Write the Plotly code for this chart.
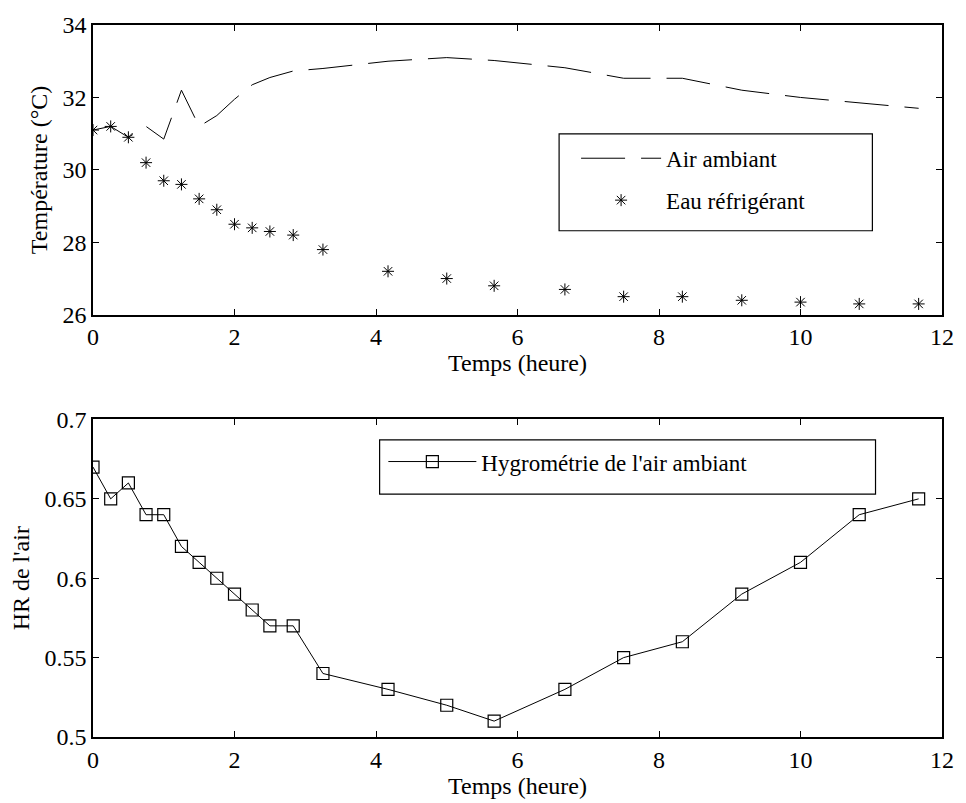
import plotly.graph_objects as go

temps = [0, 0.25, 0.5, 0.75, 1, 1.25, 1.5, 1.75, 2, 2.25, 2.5, 2.83, 3.25,
         4.17, 5, 5.67, 6.67, 7.5, 8.33, 9.17, 10, 10.83, 11.67]
air_ambiant = [31.1, 31.2, 30.9, 31.2, 30.85, 32.2, 31.2, 31.5, 31.95, 32.35, 32.55, 32.73, 32.8,
               33.0, 33.1, 33.02, 32.82, 32.53, 32.53, 32.2, 32.0, 31.85, 31.7]
eau_refrigerant = [31.1, 31.2, 30.9, 30.2, 29.7, 29.6, 29.2, 28.9, 28.5, 28.4, 28.3, 28.2, 27.8,
                   27.2, 27.0, 26.8, 26.7, 26.5, 26.5, 26.4, 26.35, 26.3, 26.3]
hr_air = [0.67, 0.65, 0.66, 0.64, 0.64, 0.62, 0.61, 0.60, 0.59, 0.58, 0.57, 0.57, 0.54,
          0.53, 0.52, 0.51, 0.53, 0.55, 0.56, 0.59, 0.61, 0.64, 0.65]

x_ticks = [0, 2, 4, 6, 8, 10, 12]
t_ticks = [26, 28, 30, 32, 34]
hr_ticks = [0.5, 0.55, 0.6, 0.65, 0.7]
hr_ticklabels = ["0.5", "0.55", "0.6", "0.65", "0.7"]

FONT = "Liberation Serif"
fig = go.Figure()

fig.add_trace(go.Scatter(x=temps, y=air_ambiant, mode="lines", name="Air ambiant",
                         line=dict(color="black", width=1, dash="44px,16px"),
                         xaxis="x", yaxis="y", legend="legend", legendgroup="a"))
fig.add_trace(go.Scatter(x=temps, y=eau_refrigerant, mode="markers", name="Eau réfrigérant",
                         marker=dict(symbol="asterisk-open", size=10, color="black",
                                     line=dict(color="black", width=1)),
                         xaxis="x", yaxis="y", legend="legend", legendgroup="b"))
fig.add_trace(go.Scatter(x=temps, y=hr_air, mode="lines+markers", name="Hygrométrie de l'air ambiant",
                         line=dict(color="black", width=1),
                         marker=dict(symbol="square-open", size=12, color="black",
                                     line=dict(color="black", width=1.2)),
                         xaxis="x2", yaxis="y2", legend="legend2"))

axis_common = dict(showline=True, linecolor="black", linewidth=1.5, mirror="ticks",
                   ticks="inside", ticklen=6, tickcolor="black", tickwidth=1,
                   showgrid=False, zeroline=False,
                   tickfont=dict(family=FONT, size=24, color="black"))

# legend frames (paper coordinates)
legend_frames = [
    dict(x0=0.549, x1=0.918, y0=0.711, y1=0.847),
    dict(x0=0.3376, x1=0.9217, y0=0.341, y1=0.4172),
]
shapes = [dict(type="rect", xref="paper", yref="paper", layer="above",
               fillcolor="white", line=dict(color="black", width=1.2), **f)
          for f in legend_frames]

fig.update_layout(
    width=966, height=803,
    margin=dict(l=93, r=17, t=21, b=61),
    paper_bgcolor="white", plot_bgcolor="white",
    font=dict(family=FONT, size=24, color="black"),
    shapes=shapes,
    xaxis=dict(domain=[0, 1], range=[0, 12], tickvals=x_ticks, anchor="y",
               title=dict(text="Temps (heure)", font=dict(family=FONT, size=24), standoff=2),
               **axis_common),
    yaxis=dict(domain=[0.593, 1], range=[26, 34], tickvals=t_ticks, anchor="x",
               title=dict(text="Température (°C)", font=dict(family=FONT, size=24), standoff=8),
               **axis_common),
    xaxis2=dict(domain=[0, 1], range=[0, 12], tickvals=x_ticks, anchor="y2",
                title=dict(text="Temps (heure)", font=dict(family=FONT, size=24), standoff=2),
                **axis_common),
    yaxis2=dict(domain=[0, 0.446], range=[0.5, 0.7], tickvals=hr_ticks, ticktext=hr_ticklabels,
                anchor="x2",
                title=dict(text="HR de l'air", font=dict(family=FONT, size=24), standoff=8),
                **axis_common),
    legend=dict(x=0.569, y=0.843, xanchor="left", yanchor="top", bgcolor="rgba(0,0,0,0)",
                borderwidth=0, itemwidth=80, tracegroupgap=9,
                font=dict(family=FONT, size=23, color="black")),
    legend2=dict(x=0.342, y=0.417, xanchor="left", yanchor="top", bgcolor="rgba(0,0,0,0)",
                 borderwidth=0, itemwidth=88,
                 font=dict(family=FONT, size=23, color="black")),
)

fig.write_html("out.html")
